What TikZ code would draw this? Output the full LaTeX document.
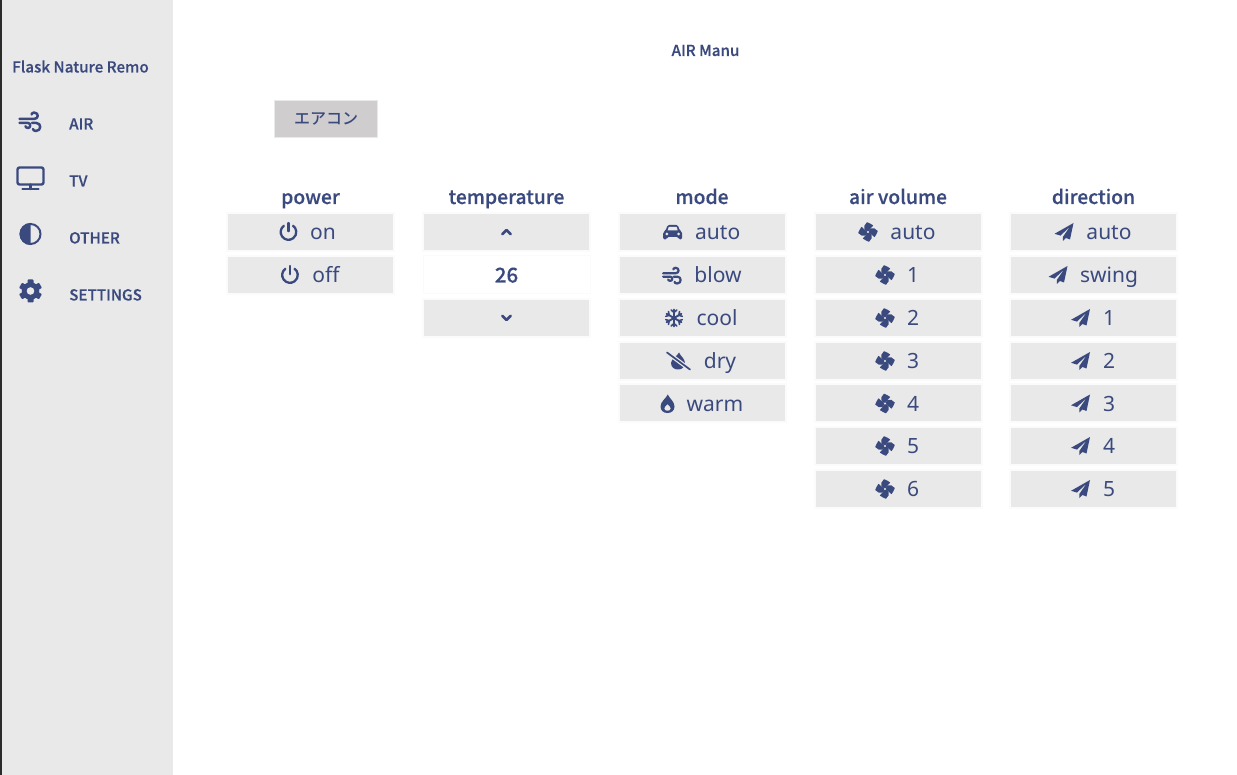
\documentclass[tikz,border=0pt]{standalone}
\usepackage{fontspec}
\setmainfont{Noto Sans}
\newfontfamily\cjk[FakeBold=0.35]{Noto Sans CJK JP Medium}
\newfontfamily\cjkm{Noto Sans CJK JP Medium}
\definecolor{ink}{HTML}{3B4A7E}
\definecolor{panel}{HTML}{E9E9E9}
\definecolor{dark}{HTML}{2B2B2B}
\definecolor{frame}{HTML}{FBFBFB}
\definecolor{sel}{HTML}{CFCDCE}
\tikzset{
  btn/.style={draw=frame,line width=2pt,fill=panel,minimum width=167pt,minimum height=38pt,inner sep=0pt},
  blank/.style={draw=frame,line width=1pt,minimum width=167pt,minimum height=38pt,inner sep=0pt},
  lbl/.style={text=ink,font=\fontsize{21}{24}\selectfont,inner sep=0pt,anchor=base},
  head/.style={text=ink,font=\cjk\fontsize{19.3}{22}\selectfont,inner sep=0pt,anchor=base},
  navt/.style={text=ink,font=\cjk\fontsize{15.2}{18}\selectfont,inner sep=0pt,anchor=base west},
  iconline/.style={draw=ink,line cap=round,line join=round},
  pics/power/.style={code={
    \draw[iconline,line width=2.3pt] (-4.6,-6.3) arc[start angle=234,end angle=-54,x radius=7.8,y radius=7.8];
    \draw[iconline,line width=2.3pt] (0,-9) -- (0,-0.8);}},
  pics/fan/.style={code={
    \foreach \a in {0,90,180,270}{
      \fill[ink,rotate=\a] (0,0) -- (-3.5,-2.5) .. controls (-4.5,-5) and (-3.5,-8) .. (-1,-9.8)
        .. controls (1,-9) and (3.5,-8) .. (5.2,-6.5) -- (2.5,-3.5) -- cycle;}
    \fill[panel] (0,0) circle (1.1);}},
  pics/plane/.style={code={
    \fill[ink] (9.5,-9) -- (-9.5,1.8) -- (-3.5,3.6) -- (6,-5.5) -- (-1.2,5) -- (-1.2,9) -- (2,6) -- (6,7.5) -- cycle;}},
  pics/car/.style={code={
    \fill[ink,rounded corners=1.5pt] (-9.5,7.5) -- (-9.5,0) -- (-7,-1.5) -- (-5.2,-7) -- (5.2,-7) -- (7,-1.5) -- (9.5,0) -- (9.5,7.5) -- (5.8,7.5) -- (5.8,5) -- (-5.8,5) -- (-5.8,7.5) -- cycle;
    \fill[panel] (-3.9,-5) -- (3.9,-5) -- (5,-1.6) -- (-5,-1.6) -- cycle;
    \fill[panel] (-5.8,2) circle (1.5) (5.8,2) circle (1.5);}},
  pics/wind/.style={code={
    \draw[iconline,line width=\pgfkeysvalueof{/tikz/wscale}] (-10.5,-2) -- (4,-2) .. controls (9,-2) and (9,-8.5) .. (4,-8.5) .. controls (2.2,-8.5) and (1.6,-7) .. (1.6,-6.5);
    \draw[iconline,line width=\pgfkeysvalueof{/tikz/wscale}] (-10.5,2) -- (-2,2) .. controls (1,2) and (1,7) .. (-2,7) .. controls (-3.8,7) and (-4.5,5.8) .. (-4.5,5.2);
    \draw[iconline,line width=\pgfkeysvalueof{/tikz/wscale}] (2,2) -- (6.5,2) .. controls (11.5,2) and (11.5,10) .. (6,10) .. controls (4,10) and (3,9) .. (3,8);}},
  wscale/.initial=2.5pt,
  pics/snow/.style={code={
    \foreach \a in {0,60,120}{
      \draw[iconline,line width=1.9pt,rotate=\a] (0,-8.5) -- (0,8.5);
      \draw[iconline,line width=1.6pt,rotate=\a] (-2.8,-8) -- (0,-5.5) -- (2.8,-8) (-2.8,8) -- (0,5.5) -- (2.8,8);}}},
  pics/drop/.style={code={
    \fill[ink,even odd rule] (0.3,-9) .. controls (2,-5) and (7,-2) .. (7,3) .. controls (7,7) and (4,9.5) .. (0,9.5) .. controls (-4,9.5) and (-7,7) .. (-7,3) .. controls (-7,-2) and (-1.5,-5) .. (0.3,-9) -- cycle
      (0,0.5) .. controls (-2,2.5) and (-3.2,3.5) .. (-3.2,5) .. controls (-3.2,6.8) and (-1.6,7.2) .. (0,7.2) .. controls (1.6,7.2) and (3.2,6.8) .. (3.2,5) .. controls (3.2,3.5) and (2,2.5) .. (0,0.5) -- cycle;}},
  pics/dry/.style={code={
    \fill[ink] (1,-8.5) .. controls (2.5,-5) and (7,-2) .. (7,2) .. controls (7,6.5) and (3.5,8.5) .. (0,8.5) .. controls (-3.5,8.5) and (-7,6.5) .. (-7,2) .. controls (-7,-2) and (-0.5,-5) .. (1,-8.5) -- cycle;
    \draw[panel,line width=4.2pt] (-11,-8.5) -- (12,8.5);
    \draw[ink,line width=1.7pt,line cap=round] (-11,-8.5) -- (12,8.5);}},
  pics/monitor/.style={code={
    \draw[iconline,line width=2.4pt,rounded corners=2pt] (-13,-10.5) rectangle (13,6.5);
    \draw[iconline,line width=2.4pt] (-8,11) -- (8,11) (0,6.5) -- (0,11);}},
  pics/half/.style={code={
    \fill[ink] (0,-11) arc[start angle=270,end angle=90,radius=11] -- cycle;
    \draw[ink,line width=2pt] (0,0) circle (10);}},
  pics/gear/.style={code={
    \foreach \a in {0,60,...,300}{
      \fill[ink,rotate=\a,rounded corners=.8pt] (-3,-11.5) rectangle (3,-5);}
    \fill[ink] (0,0) circle (8.8);
    \fill[panel] (0,0) circle (3.8);}},
  pics/chevup/.style={code={\draw[iconline,line width=2.8pt] (-4.2,2.2) -- (0,-2) -- (4.2,2.2);}},
  pics/chevdown/.style={code={\draw[iconline,line width=2.8pt] (-4.2,-2.2) -- (0,2) -- (4.2,-2.2);}},
}
\begin{document}
\begin{tikzpicture}[x=1pt,y=-1pt]
\useasboundingbox (0,0) rectangle (1237,775);
\fill[white] (0,0) rectangle (1237,775);
\fill[panel] (2,0) rectangle (173,775);
\fill[dark] (0,0) rectangle (2,775);
% sidebar
\node[navt] (brand) at (12,72.5) {Flask Nature Remo};
\pic at (30,121) {wind};
\node[navt] (air) at (69,129.5) {AIR};
\pic at (30.5,178) {monitor};
\node[navt] (tv) at (69,186.5) {TV};
\pic at (30.5,234) {half};
\node[navt] (other) at (69,243.5) {OTHER};
\pic at (30.5,291) {gear};
\node[navt] (settings) at (69,300.5) {SETTINGS};
% title
\node[navt,anchor=base] (title) at (705.5,56) {AIR Manu};
\node[draw=panel,line width=1pt,fill=sel,minimum width=103pt,minimum height=37pt,inner sep=0pt,text=ink,font=\cjkm\fontsize{16}{18}\selectfont] (aircon) at (326,119) {\raisebox{1pt}{エアコン}};
% heads
\node[head] (h1) at (310.5,204) {power};
\node[head] (h2) at (506.5,204) {temperature};
\node[head] (h3) at (702,204) {mode};
\node[head] (h4) at (898,204) {air volume};
\node[head] (h5) at (1093.5,204) {direction};
% power
\node[btn] (p1) at (310.5,232) {};
\node[btn] (p2) at (310.5,275) {};
\pic at (288.5,232) {power}; \node[lbl] (tp1) at (323,239.5) {on};
\pic at (290,275) {power}; \node[lbl] (tp2) at (326,282.5) {off};
% temperature
\node[btn] (t1) at (506.5,232) {};
\node[blank] (t2) at (506.5,275) {};
\node[head,font=\cjk\fontsize{20.5}{24}\selectfont] (t2t) at (506.5,282.5) {26};
\node[btn] (t3) at (506.5,318) {};
\pic at (506.5,232) {chevup};
\pic at (506.5,318) {chevdown};
% mode
\foreach \n/\y in {1/232,2/275,3/318,4/361,5/403.5}{\node[btn] (m\n) at (702,\y) {};}
\pic at (672.7,232) {car}; \node[lbl] (tm1) at (717.7,239.5) {auto};
\pic[scale=.85,wscale=2.2pt] at (672,275) {wind}; \node[lbl] (tm2) at (718,282.5) {blow};
\pic at (674,318) {snow}; \node[lbl] (tm3) at (717,325.5) {cool};
\pic at (678,361) {dry}; \node[lbl] (tm4) at (720,368.5) {dry};
\pic at (667.5,403.5) {drop}; \node[lbl] (tm5) at (715,411) {warm};
% air volume
\foreach \n/\y in {1/232,2/275,3/318,4/361,5/403.5,6/446,7/489}{\node[btn] (v\n) at (898,\y) {};}
\pic at (868,232) {fan}; \node[lbl] (tv1) at (913,239.5) {auto};
\foreach \n/\y/\t in {2/275/1,3/318/2,4/361/3,5/403.5/4,6/446/5,7/489/6}{
  \pic at (885,\y) {fan}; \node[lbl] (tv\n) at (913,\y+7.5) {\t};}
% direction
\foreach \n/\y in {1/232,2/275,3/318,4/361,5/403.5,6/446,7/489}{\node[btn] (d\n) at (1093.5,\y) {};}
\pic at (1064,232) {plane}; \node[lbl] (td1) at (1109,239.5) {auto};
\pic at (1058,275) {plane}; \node[lbl] (td2) at (1109,282.5) {swing};
\foreach \n/\y/\t in {3/318/1,4/361/2,5/403.5/3,6/446/4,7/489/5}{
  \pic at (1080.5,\y) {plane}; \node[lbl] (td\n) at (1109,\y+7.5) {\t};}
\end{tikzpicture}
\end{document}
